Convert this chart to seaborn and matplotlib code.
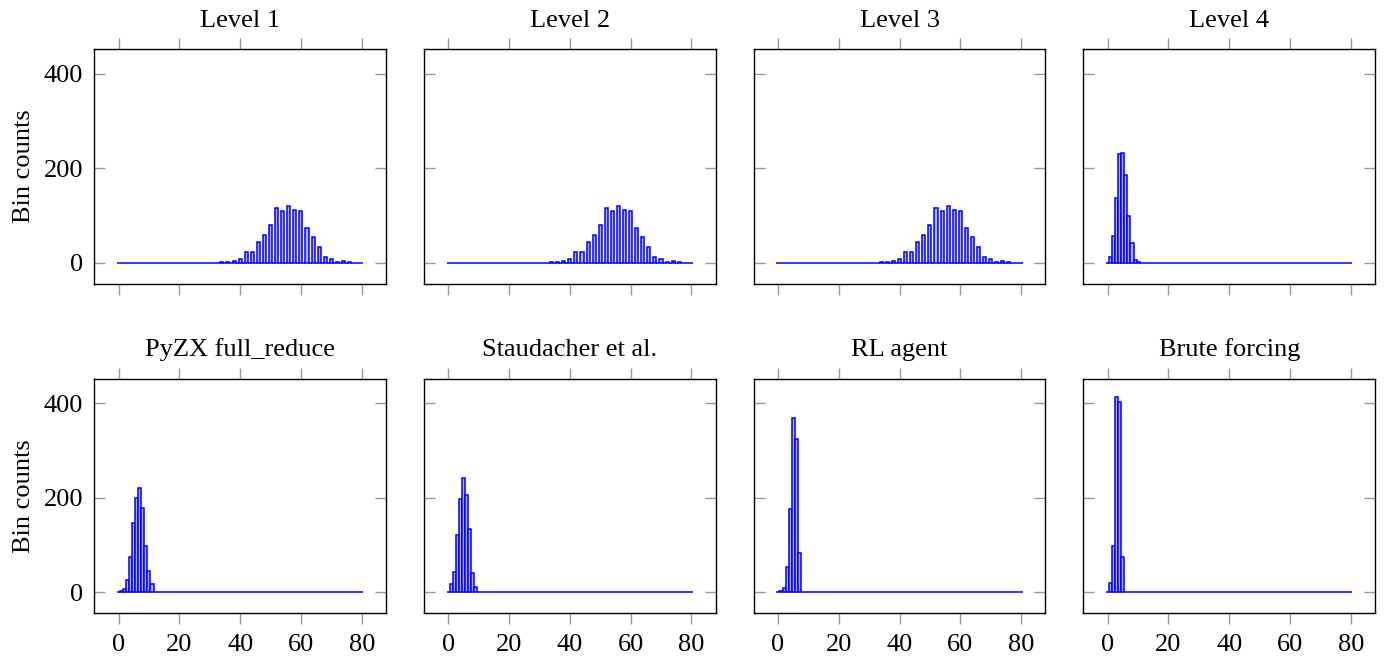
import numpy as np
import pandas as pd
import matplotlib
matplotlib.use("Agg")
import matplotlib.pyplot as plt
import seaborn as sns

sns.set_theme(style="white")
plt.rcParams['font.family'] = ['Liberation Serif', 'DejaVu Serif']
plt.rcParams['text.color'] = 'black'
plt.rcParams['axes.labelcolor'] = 'black'
plt.rcParams['xtick.labelcolor'] = 'black'
plt.rcParams['ytick.labelcolor'] = 'black'

# histogram data: value -> bin count (all other values 0 .. 80 are empty)
level1_x = [34, 36, 38, 40, 42, 44, 46, 48, 50, 52, 54, 56, 58, 60, 62, 64, 66, 68, 70, 72, 74, 76]
level1_counts = [1, 1, 4, 8, 24, 24, 44, 58, 80, 116, 110, 121, 111, 110, 74, 54, 33, 13, 8, 1, 4, 1]

level2_x = [34, 36, 38, 40, 42, 44, 46, 48, 50, 52, 54, 56, 58, 60, 62, 64, 66, 68, 70, 72, 74, 76]
level2_counts = [1, 1, 4, 8, 24, 24, 44, 58, 80, 116, 110, 121, 111, 110, 74, 54, 33, 13, 8, 1, 4, 1]

level3_x = [34, 36, 38, 40, 42, 44, 46, 48, 50, 52, 54, 56, 58, 60, 62, 64, 66, 68, 70, 72, 74, 76]
level3_counts = [1, 1, 4, 8, 24, 24, 44, 58, 80, 116, 110, 121, 111, 110, 74, 54, 33, 13, 8, 1, 4, 1]

level4_x = [1, 2, 3, 4, 5, 6, 7, 8, 9, 10]
level4_counts = [12, 56, 137, 231, 233, 185, 99, 42, 6, 2]

pyzx_x = [0, 1, 2, 3, 4, 5, 6, 7, 8, 9, 10, 11, 12]
pyzx_counts = [1, 2, 6, 26, 75, 146, 200, 220, 179, 97, 46, 17, 1]

staud_x = [1, 2, 3, 4, 5, 6, 7, 8, 9]
staud_counts = [18, 42, 122, 198, 241, 205, 133, 40, 11]

rl_x = [1, 2, 3, 4, 5, 6, 7]
rl_counts = [2, 9, 53, 177, 368, 324, 83]

brute_x = [1, 2, 3, 4, 5]
brute_counts = [19, 99, 414, 403, 75]

titles = ["Level 1", "Level 2", "Level 3", "Level 4",
          "PyZX full_reduce", "Staudacher et al.", "RL agent", "Brute forcing"]
panels = [(level1_x, level1_counts), (level2_x, level2_counts),
          (level3_x, level3_counts), (level4_x, level4_counts),
          (pyzx_x, pyzx_counts), (staud_x, staud_counts),
          (rl_x, rl_counts), (brute_x, brute_counts)]

values = np.arange(0, 81)

fig, axes = plt.subplots(2, 4, figsize=(13.9, 6.65), dpi=100)
fig.subplots_adjust(left=0.0678, right=0.9893, top=0.926, bottom=0.078,
                    wspace=0.13, hspace=0.405)

for i, (ax, title, (xs, cs)) in enumerate(zip(axes.flat, titles, panels)):
    full = np.zeros(len(values))
    for x, c in zip(xs, cs):
        full[x] = c
    df = pd.DataFrame({'value': values, 'count': full})
    sns.histplot(data=df, x='value', weights='count', discrete=True, ax=ax,
                 color='#b0b0ff', edgecolor='blue', linewidth=1.1, alpha=1.0)

    ax.set_xlim(-8, 88)
    ax.set_ylim(-44, 452)
    ax.set_xticks([0, 20, 40, 60, 80])
    ax.set_yticks([0, 200, 400])
    ax.set_title(title, fontsize=19, pad=16, color='black')

    ax.tick_params(axis='x', which='major', direction='out', length=8,
                   width=1, color='#999999', top=True, bottom=True,
                   labelsize=19, pad=7)
    ax.tick_params(axis='y', which='major', direction='in', length=8,
                   width=1, color='#999999', left=True, right=True,
                   labelsize=19, pad=8)
    for s in ax.spines.values():
        s.set_color('black')
        s.set_linewidth(1.0)

    row, col = divmod(i, 4)
    if row == 0:
        ax.set_xticklabels([])
    if col == 0:
        ax.set_ylabel('Bin counts', fontsize=19, labelpad=6)
    else:
        ax.set_ylabel('')
        ax.set_yticklabels([])
    ax.set_xlabel('')

plt.savefig('out.png', dpi=100)
